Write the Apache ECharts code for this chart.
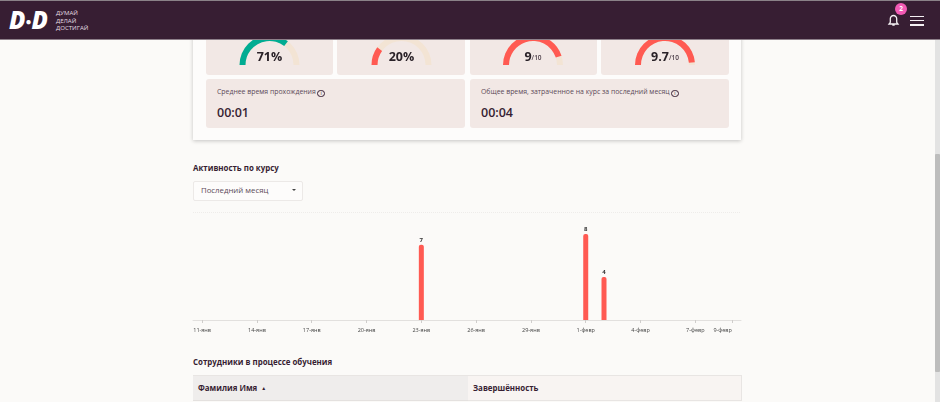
<!DOCTYPE html>
<html lang="ru">
<head>
  <meta charset="UTF-8">
  <title>Активность по курсу</title>
  <style>
    html, body { margin: 0; padding: 0; width: 940px; height: 402px; overflow: hidden; background: #fbfaf8; font-family: "Open Sans", "Noto Sans", sans-serif; color: #371e33; }
    .abs { position: absolute; }
    #header { left: 0; top: 0; width: 940px; height: 40px; background: #371e33; border-top: 1px solid #8a8288; box-sizing: border-box; border-bottom: 1px solid #8d7f8a; z-index: 5; }
    #logo { left: 9px; top: 7px; font: italic 800 24px/26px "Open Sans", sans-serif; color: #fff; letter-spacing: 0; }
    #slogan { left: 56px; top: 9px; font-size: 6.1px; line-height: 7.6px; color: #e4dde2; }
    #badge { left: 895px; top: 3px; width: 12px; height: 12px; border-radius: 6px; background: #f25ab4; color: #fff; font: 700 6.5px/12px "Open Sans", sans-serif; text-align: center; }
    .burger { left: 910px; width: 14px; height: 1.5px; background: #f4f0f3; }
    #panel { left: 193px; top: 30px; width: 548px; height: 110px; background: #fdfcfb; box-shadow: 0 1px 4px rgba(0,0,0,.22); }
    .card { background: #f2e8e5; border-radius: 3px; }
    .hint { font-size: 6.9px; color: #5c4a58; white-space: nowrap; }
    .time { font-size: 12.5px; font-weight: 550; color: #371e33; }
    .info { display: inline-block; width: 5.5px; height: 5.5px; line-height: 5.5px; border: 1px solid #371e33; border-radius: 50%; font-size: 5px; text-align: center; vertical-align: -0.5px; margin-left: 1.5px; color: #371e33; }
    #gauges { left: 193px; top: 30px; width: 548px; height: 50px; z-index: 2; }
    #bars { left: 183px; top: 205px; width: 570px; height: 135px; }
    h4 { position: absolute; margin: 0; font-size: 7.9px; font-weight: 700; color: #371e33; white-space: nowrap; }
    #select { left: 193px; top: 181px; width: 110px; height: 20px; box-sizing: border-box; background: #fdfcfb; border: 1px solid #ece9e7; border-radius: 2px; font-size: 7.8px; line-height: 17px; padding-left: 7px; color: #5c4a58; }
    #caret { left: 292px; top: 189px; width: 0; height: 0; border: 2px solid transparent; border-top: 2.5px solid #444; border-bottom: 0; }
    #th1 { left: 193px; top: 375px; width: 275px; height: 26px; background: #efedec; font-size: 7.9px; font-weight: 700; line-height: 24px; padding-left: 5px; box-sizing: border-box; border-top: 1px solid #e8e5e3; border-bottom: 1px solid #e4e1df; }
    #th2 { left: 468px; top: 375px; width: 274px; height: 26px; background: #f8f4f2; font-size: 7.9px; font-weight: 700; line-height: 24px; padding-left: 5px; box-sizing: border-box; border: 1px solid #e8e5e3; border-left: 0; }
    #track { left: 935px; top: 40px; width: 5px; height: 362px; background: #e3e3e3; }
    #thumb { left: 935px; top: 154px; width: 5px; height: 218px; background: #bdbdbd; border-radius: 1px; }
  </style>
</head>
<body>
  <div class="abs" id="header"></div>
  <div class="abs" id="logo" style="z-index:6">D<span style="font-size:10px;vertical-align:4px">●</span>D</div>
  <div class="abs" id="slogan" style="z-index:6">ДУМАЙ<br>ДЕЛАЙ<br>ДОСТИГАЙ</div>
  <svg class="abs" style="left:887px;top:14px;z-index:6" width="13" height="13" viewBox="0 0 13 13"><path d="M6.5 1.5a3.2 3.2 0 0 0-3.2 3.2v3.6L2 10h9l-1.300-1.700V4.700A3.200 3.200 0 0 0 6.500 1.500zM5.300 11.200h2.400" fill="none" stroke="#f4f0f3" stroke-width="1.300"/></svg>
  <div class="abs" id="badge" style="z-index:6">2</div>
  <div class="abs burger" style="top:15.5px;z-index:6"></div>
  <div class="abs burger" style="top:19.5px;z-index:6"></div>
  <div class="abs burger" style="top:24px;z-index:6"></div>

  <div class="abs" id="panel"></div>
  <div class="abs card" style="left:206px;top:30px;width:127px;height:45px"></div>
  <div class="abs card" style="left:337px;top:30px;width:128px;height:45px"></div>
  <div class="abs card" style="left:470px;top:30px;width:127px;height:45px"></div>
  <div class="abs card" style="left:601px;top:30px;width:128px;height:45px"></div>
  <div class="abs card" style="left:206px;top:79px;width:259px;height:49px"></div>
  <div class="abs card" style="left:470px;top:79px;width:259px;height:49px"></div>
  <div class="abs hint" style="left:217px;top:87px">Среднее время прохождения<span class="info">i</span></div>
  <div class="abs hint" style="left:481px;top:87px">Общее время, затраченное на курс за последний месяц<span class="info">i</span></div>
  <div class="abs time" style="left:217px;top:104px">00:01</div>
  <div class="abs time" style="left:481px;top:104px">00:04</div>
  <div class="abs" id="gauges"></div>

  <h4 style="left:193px;top:163px">Активность по курсу</h4>
  <div class="abs" id="select">Последний месяц</div>
  <div class="abs" id="caret"></div>
  <div class="abs" id="bars"></div>

  <h4 style="left:193px;top:357px">Сотрудники в процессе обучения</h4>
  <div class="abs" id="th1">Фамилия Имя &nbsp;<span style="font-size:5px;vertical-align:1px">▲</span></div>
  <div class="abs" id="th2">Завершённость</div>
  <div class="abs" id="track"></div>
  <div class="abs" id="thumb"></div>

  <script src="https://cdn.jsdelivr.net/npm/echarts@6/dist/echarts.min.js"></script>
  <script>
    var days = [
      '11-янв', '12-янв', '13-янв', '14-янв', '15-янв', '16-янв', '17-янв', '18-янв', '19-янв', '20-янв',
      '21-янв', '22-янв', '23-янв', '24-янв', '25-янв', '26-янв', '27-янв', '28-янв', '29-янв', '30-янв',
      '31-янв', '1-февр', '2-февр', '3-февр', '4-февр', '5-февр', '6-февр', '7-февр', '8-февр', '9-февр'
    ]
    var activity = [0, 0, 0, 0, 0, 0, 0, 0, 0, 0, 0, 0, 7, 0, 0, 0, 0, 0, 0, 0, 0, 8, 4, 0, 0, 0, 0, 0, 0, 0]

    var gaugeValues = [71, 20, 9, 9.7]
    var gaugeMax = [100, 100, 10, 10]
    var gaugeColors = ['#00ac92', '#ff5a52', '#ff5a52', '#ff5a52']
    var gaugeCenters = [76.5, 208.5, 340, 472]

    var gaugeChart = echarts.init(document.getElementById('gauges'))
    gaugeChart.setOption({
      animation: false,
      series: gaugeValues.map(function (value, i) {
        return {
          type: 'gauge',
          center: [gaugeCenters[i], 35],
          radius: 30,
          startAngle: 180,
          endAngle: 0,
          min: 0,
          max: gaugeMax[i],
          pointer: {show: false},
          axisTick: {show: false},
          splitLine: {show: false},
          axisLabel: {show: false},
          axisLine: {lineStyle: {width: 6, color: [[1, '#f3e4d4']]}},
          progress: {show: true, width: 6, itemStyle: {color: gaugeColors[i]}},
          title: {show: false},
          detail: {
            offsetCenter: [0, -8],
            valueAnimation: false,
            formatter: function (v) {
              return gaugeMax[i] === 100 ? '{big|' + v + '%}' : '{big|' + v + '}{small|/10}'
            },
            rich: {
              big: {fontFamily: 'Open Sans', fontSize: 12.5, fontWeight: 700, color: '#2a2228'},
              small: {fontFamily: 'Open Sans', fontSize: 6.500, fontWeight: 600, color: '#4a3c46', padding: [3, 0, 0, 0]}
            }
          },
          data: [{value: value}]
        }
      })
    })

    var barChart = echarts.init(document.getElementById('bars'))
    barChart.setOption({
      animation: false,
      textStyle: {fontFamily: 'Open Sans'},
      grid: {left: 10, right: 12, top: 7.500, bottom: 20},
      xAxis: {
        type: 'category',
        data: days,
        axisLine: {lineStyle: {color: '#e2e0de', width: 1}},
        axisTick: {show: true, alignWithLabel: true, length: 3, lineStyle: {color: '#cfcdcb', width: 1}},
        axisLabel: {
          fontSize: 5.500,
          color: '#444',
          margin: 7,
          alignMaxLabel: 'right',
          interval: function (index) {
            return index % 3 === 0 || index === days.length - 1
          }
        }
      },
      yAxis: {
        type: 'value',
        min: 0,
        max: 10,
        interval: 10,
        axisLine: {show: false},
        axisTick: {show: false},
        axisLabel: {show: false},
        splitLine: {lineStyle: {color: '#eeecea', type: 'dotted'}}
      },
      series: [{
        type: 'bar',
        data: activity,
        barWidth: 5,
        itemStyle: {color: '#ff5a52', borderRadius: [2, 2, 0, 0]},
        label: {
          show: true,
          position: 'top',
          distance: 1.500,
          fontSize: 6,
          fontWeight: 700,
          color: '#333',
          formatter: function (p) { return p.value ? p.value : '' }
        }
      }]
    })
  </script>
</body>
</html>
